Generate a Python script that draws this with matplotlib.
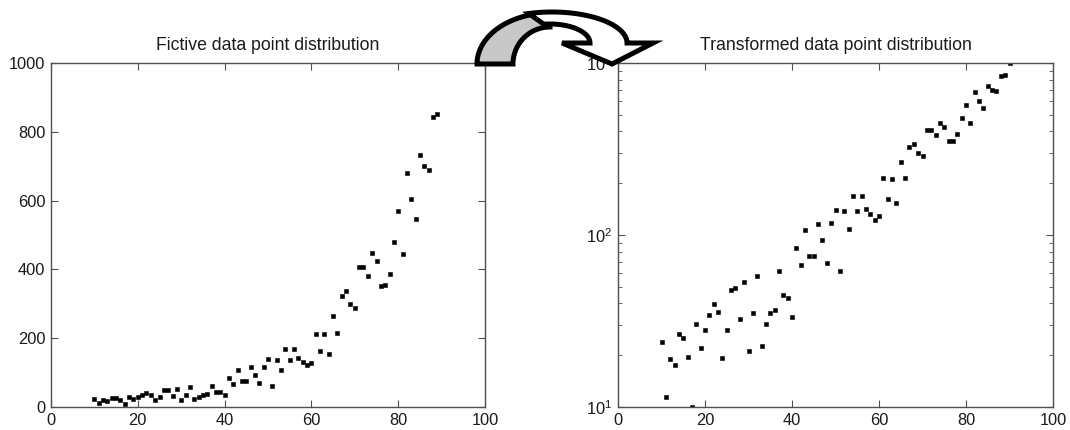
import numpy as np
import matplotlib
matplotlib.use("Agg")
import matplotlib.pyplot as plt
from matplotlib.patches import Polygon

plt.rcParams['font.family'] = ['Liberation Sans', 'DejaVu Sans']
plt.rcParams['mathtext.fontset'] = 'custom'
plt.rcParams['mathtext.rm'] = 'Liberation Sans'
plt.rcParams['mathtext.it'] = 'Liberation Sans'
plt.rcParams['mathtext.default'] = 'regular'

# Sample positions and measured values
x_vals = list(range(10, 91))
y_vals = [
    24, 11.4, 19.1, 17.5, 26.7, 25.1, 19.5, 10.0, 30.4, 22.1,      # 10-19
    27.9, 34.1, 39.5, 35.7, 19.3, 28.0, 48.1, 49.4, 32.5, 53.6,    # 20-29
    21.2, 35.2, 57.8, 22.7, 30.4, 35.1, 36.8, 61.5, 45.0, 42.9,    # 30-39
    33.5, 83.7, 66.9, 106.5, 75.8, 75.8, 116.3, 93.5, 68.7, 117,   # 40-49
    139, 61.8, 137, 108.8, 168, 137, 169, 141, 132, 122,           # 50-59
    129, 213.6, 161.9, 212.5, 152.9, 264.6, 214.4, 323.5, 338, 298.5,  # 60-69
    289, 406, 406, 380, 448, 424.6, 350.6, 353.5, 388, 478.8,      # 70-79
    570, 446, 681, 604, 547, 732, 700, 688, 843, 851,              # 80-89
    1000,                                                          # 90
]
left_count = 80  # points shown in the linear panel (x = 10..89)

titles = ["Fictive data point distribution", "Transformed data point distribution"]
x_ticks = [0, 20, 40, 60, 80, 100]
lin_ticks = [0, 200, 400, 600, 800, 1000]

W, H = 1070, 430
fig = plt.figure(figsize=(W / 100, H / 100), dpi=100)

spine_col = '#505050'
text_col = '#1a1a1a'
fs = 11.8
title_fs = 12.7


def style(ax):
    ax.tick_params(direction='in', top=True, right=True, length=5, width=0.8,
                   colors=spine_col, labelcolor=text_col, labelsize=fs, pad=4)
    ax.tick_params(which='minor', direction='in', top=True, right=True,
                   length=3, width=0.6, colors=spine_col)
    for s in ax.spines.values():
        s.set_color(spine_col)
        s.set_linewidth(1.0)


def px_rect(x0, y0, x1, y1):
    return [x0 / W, 1 - y1 / H, (x1 - x0) / W, (y1 - y0) / H]


# Linear panel
ax1 = fig.add_axes(px_rect(51, 63, 485, 407))
ax1.plot(x_vals[:left_count], y_vals[:left_count], 's', color='black',
         markersize=2.6, markeredgewidth=0.4)
ax1.set_xlim(0, 100)
ax1.set_ylim(0, 1000)
ax1.set_xticks(x_ticks)
ax1.set_yticks(lin_ticks)
ax1.set_title(titles[0], fontsize=title_fs, color=text_col, pad=9)
style(ax1)

# Log panel
ax2 = fig.add_axes(px_rect(618, 63, 1053, 407))
ax2.plot(x_vals, y_vals, 's', color='black', markersize=2.6,
         markeredgewidth=0.4)
ax2.set_yscale('log')
ax2.set_xlim(0, 100)
ax2.set_ylim(10, 1000)
ax2.set_xticks(x_ticks)
ax2.set_title(titles[1], fontsize=title_fs, color=text_col, pad=9)
style(ax2)

# Curved arrow overlay drawn in pixel space
ov = fig.add_axes([0, 0, 1, 1], zorder=10)
ov.set_xlim(0, W)
ov.set_ylim(H, 0)
ov.axis('off')
ov.patch.set_alpha(0)

cx = 550
t_left = np.linspace(np.pi, np.pi / 2, 60)
outer_l = np.column_stack([cx + 73 * np.cos(t_left), 64 - 51 * np.sin(t_left)])
inner_l = np.column_stack([cx + 37 * np.cos(t_left), 64 - 37 * np.sin(t_left)])
leg = np.vstack([outer_l, inner_l[::-1]])
ov.add_patch(Polygon(leg, closed=True, facecolor='#c8c8c8', edgecolor='black',
                     linewidth=3.6, joinstyle='miter'))

t_right = np.linspace(np.pi * 0.6, 0, 60)
outer_r = np.column_stack([cx + 2 + 75 * np.cos(t_right), 43 - 31 * np.sin(t_right)])
t_in = np.linspace(np.pi * 0.55, 0, 60)
inner_r = np.column_stack([cx + 40 * np.cos(t_in), 43 - 19 * np.sin(t_in)])
head = np.array([[653, 43], [612, 64], [562, 43]])
body = np.vstack([outer_r, head, inner_r[::-1]])
ov.add_patch(Polygon(body, closed=True, facecolor='white', edgecolor='black',
                     linewidth=3.6, joinstyle='miter'))

fig.savefig('out.png', dpi=100)
